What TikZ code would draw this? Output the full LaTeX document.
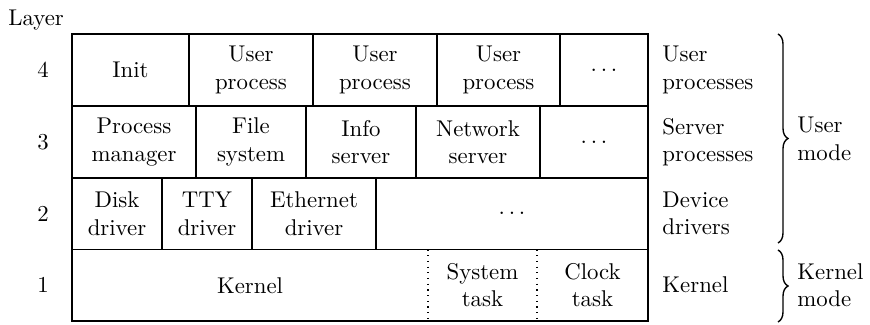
\documentclass[tikz,border=0pt]{standalone}
\usetikzlibrary{decorations.pathreplacing}

% one cell of the layer table: [style]{name}{x1}{x2}{y1}{y2}{text}
\newcommand\laycell[7][cell]{%
  \node[#1, minimum width={(#4-#3)*0.4386pt}, minimum height={(#6-#5)*0.4386pt}]
    (#2) at ({(#3+#4)/2},{(#5+#6)/2}) {#7};}
% spaced ellipsis for the "more of these" cells
\newcommand\moredots{$\ldots$}

\begin{document}
\begin{tikzpicture}[x=0.4386pt, y=-0.4386pt,
  cell/.style={draw, line width=0.5pt, rectangle, inner sep=0pt, outer sep=0pt, align=center},
  bare/.style={rectangle, inner sep=0pt, outer sep=0pt, align=center},
  sidelabel/.style={anchor=west, inner sep=0pt, align=left},
  layernum/.style={inner sep=0pt},
  modebrace/.style={decorate, decoration={brace, amplitude=4.4pt}, line width=0.6pt}]
\useasboundingbox (0,0) rectangle (870,325);

% header and layer numbers
\node[anchor=base west, inner sep=0pt] (hdr) at (8,26) {Layer};
\node[layernum] (n4) at (43,70) {4};
\node[layernum] (n3) at (43,142) {3};
\node[layernum] (n2) at (43,213.5) {2};
\node[layernum] (n1) at (43,285) {1};

% layer 4: user processes
\laycell{init}{72}{189}{34}{106}{Init}
\laycell{up1}{189}{313}{34}{106}{User\\process}
\laycell{up2}{313}{437}{34}{106}{User\\process}
\laycell{up3}{437}{560}{34}{106}{User\\process}
\laycell{upx}{560}{648}{34}{106}{\moredots}

% layer 3: server processes
\laycell{pm}{72}{196}{106}{178}{Process\\manager}
\laycell{fs}{196}{306}{106}{178}{File\\system}
\laycell{is}{306}{416}{106}{178}{Info\\server}
\laycell{ns}{416}{540}{106}{178}{Network\\server}
\laycell{spx}{540}{648}{106}{178}{\moredots}

% layer 2: device drivers
\laycell{disk}{72}{162}{178}{249.5}{Disk\\driver}
\laycell{tty}{162}{252}{178}{249.5}{TTY\\driver}
\laycell{eth}{252}{376}{178}{249.5}{Ethernet\\driver}
\laycell{ddx}{376}{648}{178}{249.5}{\moredots}

% layer 1: kernel with its two tasks
\laycell[bare]{kern}{72}{428}{249.5}{321}{Kernel}
\laycell[bare]{systask}{428}{537}{249.5}{321}{System\\task}
\laycell[bare]{clktask}{537}{648}{249.5}{321}{Clock\\task}
\draw[line width=0.5pt] (kern.north west) rectangle (clktask.south east);
\draw[dotted, line width=0.5pt] (systask.north west) -- (systask.south west);
\draw[dotted, line width=0.5pt] (clktask.north west) -- (clktask.south west);

% layer names
\node[sidelabel] (l4) at (662,70) {User\\processes};
\node[sidelabel] (l3) at (662,142) {Server\\processes};
\node[sidelabel] (l2) at (662,213.5) {Device\\drivers};
\node[sidelabel] (l1) at (662,285) {Kernel};

% mode braces
\coordinate (ub1) at (778,34);
\coordinate (ub2) at (778,243);
\coordinate (kb1) at (778,250);
\coordinate (kb2) at (778,322);
\draw[modebrace] (ub1) -- (ub2);
\draw[modebrace] (kb1) -- (kb2);
\node[sidelabel] (um) at (797,139) {User\\mode};
\node[sidelabel] (km) at (797,285) {Kernel\\mode};
\end{tikzpicture}
\end{document}
